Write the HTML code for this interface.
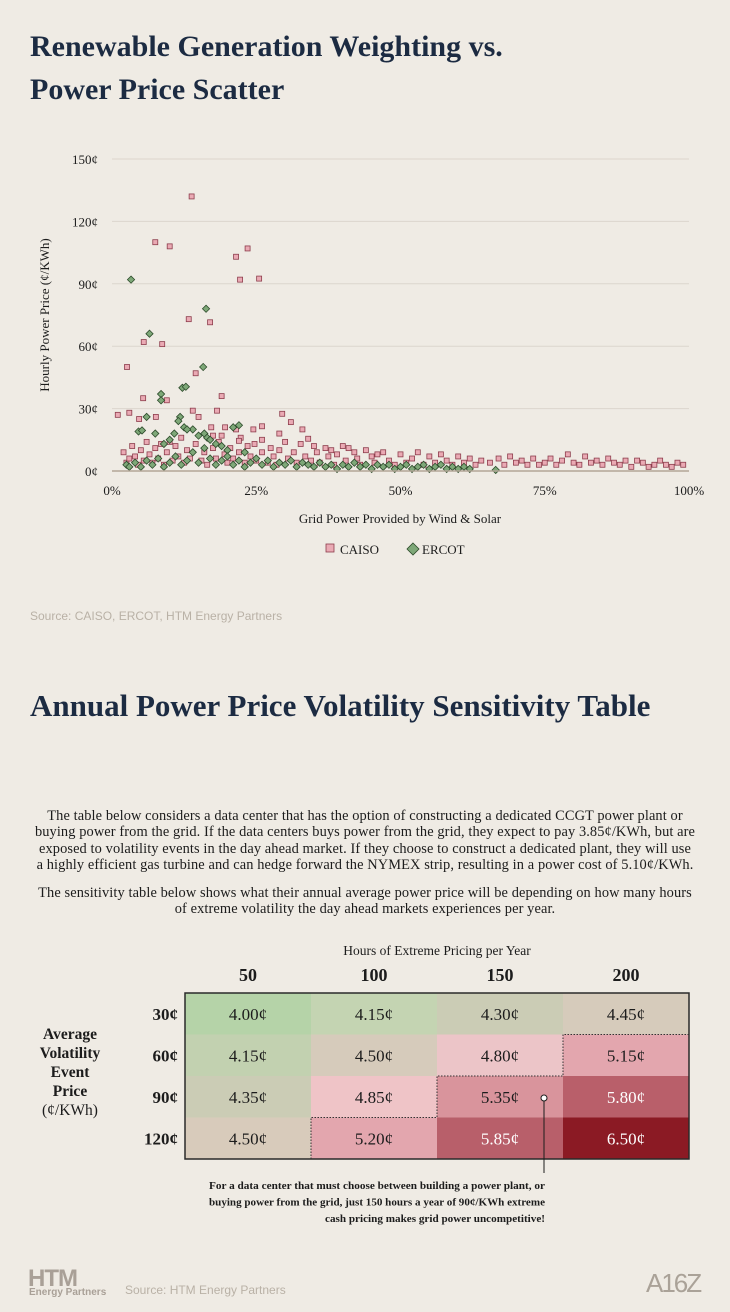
<!DOCTYPE html>
<html><head><meta charset="utf-8">
<style>
body{margin:0;background:#efebe4;}
#page{position:relative;width:730px;height:1312px;background:#efebe4;overflow:hidden;font-family:"Liberation Serif",serif;color:#1c2b42;}
.t{position:absolute;white-space:nowrap;}
.h1{font-size:30px;color:#1c2b42;font-weight:bold;}
.para{position:absolute;left:0;width:730px;text-align:center;font-size:14.4px;line-height:16.3px;color:#1c1c1c;white-space:nowrap;letter-spacing:0.1px;}
.src{font-family:"Liberation Sans",sans-serif;font-size:12px;color:#b9b1a6;}
</style></head><body>
<div id="page">
<div class="t h1" style="left:30px;top:30px;">Renewable Generation Weighting vs.</div>
<div class="t h1" style="left:30px;top:73px;">Power Price Scatter</div>

<svg id="chart" width="730" height="580" style="position:absolute;left:0;top:0"></svg>

<div class="t src" style="left:30px;top:609px;">Source: CAISO, ERCOT, HTM Energy Partners</div>

<div class="t h1" style="left:30px;top:688px;font-size:31px;">Annual Power Price Volatility Sensitivity Table</div>

<div class="para" style="top:808px;">The table below considers a data center that has the option of constructing a dedicated CCGT power plant or<br>buying power from the grid. If the data centers buys power from the grid, they expect to pay 3.85¢/KWh, but are<br>exposed to volatility events in the day ahead market. If they choose to construct a dedicated plant, they will use<br>a highly efficient gas turbine and can hedge forward the NYMEX strip, resulting in a power cost of 5.10¢/KWh.</div>
<div class="para" style="top:885px;">The sensitivity table below shows what their annual average power price will be depending on how many hours<br>of extreme volatility the day ahead markets experiences per year.</div>

<svg id="table" width="730" height="300" style="position:absolute;left:0;top:930px"></svg>

<div class="t" style="left:28px;top:1265px;font-family:'Liberation Sans',sans-serif;font-weight:bold;font-size:24px;color:#a9a097;letter-spacing:-1px;">HTM</div>
<div class="t" style="left:29px;top:1287px;font-family:'Liberation Sans',sans-serif;font-size:10px;font-weight:bold;color:#a9a097;">Energy Partners</div>
<div class="t src" style="left:125px;top:1283px;">Source: HTM Energy Partners</div>
<div class="t" style="left:646px;top:1268px;font-family:'Liberation Sans',sans-serif;font-size:26px;color:#aaa298;letter-spacing:-2px;">A16Z</div>
</div>
<script>
const NS="http://www.w3.org/2000/svg";
const yTicks=[0,30,60,90,120,150];
const yTickLabels=["0¢","30¢","60¢","90¢","120¢","150¢"];
const xTicks=[0,25,50,75,100];
const xTickLabels=["0%","25%","50%","75%","100%"];
const caiso=[[13.8,132],[7.5,110],[10,108],[23.5,107],[21.5,103],[22.2,92],[25.5,92.5],[13.3,73],[17,71.5],[5.5,62],[8.7,61],[2.6,50],[14.5,47],[19,36],[5.4,35],[9.5,34],[14,29],[18.2,29],[1,27],[4.7,25],[7.6,26],[3,28],[15,26],[17.2,21],[19.6,21],[29.5,27.5],[31,23.5],[26,21.5],[21.5,20],[24.5,20],[33,20],[26,15],[17.5,17],[19,17],[22.3,16],[22,14.5],[24.7,13],[29,18],[30,14],[32.7,13],[34,15.5],[35,12],[37,11],[38,10],[40,12],[41,11],[42,9],[44,10],[46,8],[2,9],[2.5,4],[3,6],[3.5,12],[4,7],[4.5,3],[5,10],[5.5,5],[6,14],[6.5,8],[7,4],[7.5,11],[8,6],[8.5,13],[9,3],[9.5,9],[10,14],[10.5,5],[11,12],[11.5,7],[12,16],[12.5,4],[13,10],[13.5,6],[14.5,13],[15.5,5],[16,9],[16.5,3],[17.5,11],[18,6],[18.5,14],[19.5,8],[20,4],[20.5,11],[21,6],[22,9],[23,4],[23.5,12],[24,7],[25,5],[26,9],[27,4],[27.5,11],[28,7],[28.5,3],[29,10],[30.5,6],[31.5,9],[32,4],[33.5,7],[34.5,5],[35.5,9],[36,4],[37.5,7],[38.5,3],[39,8],[40.5,5],[42.5,6],[43,3],[45,7],[45.5,4],[47,9],[48,5],[49,3],[50,8],[51,4],[52,6],[53,9],[54,3],[55,7],[56,4],[57,8],[58,5],[59,3],[60,7],[61,4],[62,6],[63,3],[64,5],[65.5,4],[67,6],[68,3],[69,7],[70,4],[71,5],[72,3],[73,6],[74,3],[75,4],[76,6],[77,3],[78,5],[79,8],[80,4],[81,3],[82,7],[83,4],[84,5],[85,3],[86,6],[87,4],[88,3],[89,5],[90,2],[91,5],[92,4],[93,2],[94,3],[95,5],[96,3],[97,2],[98,4],[99,3]];
const ercot=[[3.3,92],[16.3,78],[6.5,66],[15.8,50],[12.2,40],[12.8,40.5],[8.5,37],[8.5,34],[6,26],[11.8,26],[11.5,24],[4.6,19],[5.2,19.5],[7.5,18],[10.8,18],[14,20],[16,18],[16.5,16],[17,15],[18,13],[21,21],[22,22],[12.5,21],[13,20],[15,17],[9,13],[10,15],[19,12],[20,10],[23,9],[2.5,3],[3,2],[4,4],[5,2],[6,5],[7,3],[8,6],[9,2],[10,4],[11,7],[12,3],[13,5],[14,9],[15,4],[16,11],[17,6],[18,3],[19,5],[20,7],[21,3],[22,5],[23,2],[24,4],[25,6],[26,3],[27,5],[28,2],[29,4],[30,3],[31,5],[32,2],[33,4],[34,3],[35,2],[36,4],[37,2],[38,3],[39,1],[40,3],[41,2],[42,4],[43,2],[44,3],[45,1],[46,3],[47,2],[48,3],[49,1],[50,2],[51,3],[52,1],[53,2],[54,3],[55,1],[56,2],[57,3],[58,1],[59,2],[60,1],[61,2],[62,1],[66.5,0.5]];
const X0=112,X1=689,Y0=471,Y1=159;
const sx=v=>X0+(X1-X0)*v/100;
const sy=v=>Y0-(Y0-Y1)*v/150;
function mk(parent,tag,attrs,text){const e=document.createElementNS(NS,tag);for(const k in attrs)e.setAttribute(k,attrs[k]);if(text!==undefined)e.textContent=text;parent.appendChild(e);return e;}
const c=document.getElementById('chart');
yTicks.forEach((v,i)=>{
  if(v>0){const g=mk(c,'line',{x1:X0,x2:X1,y1:sy(v),y2:sy(v),stroke:'#dcd6cd','stroke-width':1});
  
  }
  const t=mk(c,'text',{x:98,y:sy(v)+5,'text-anchor':'end','font-size':13,fill:'#1c1c1c','font-family':'Liberation Serif, serif'},yTickLabels[i]);
  
  
});
xTicks.forEach((v,i)=>{
  const t=mk(c,'text',{x:sx(v),y:495,'text-anchor':'middle','font-size':13,fill:'#1c1c1c','font-family':'Liberation Serif, serif'},xTickLabels[i]);
  
  
});
caiso.forEach(p=>{
  const r=mk(c,'rect',{x:sx(p[0])-2.5,y:sy(p[1])-2.5,width:5,height:5,fill:'#eaaab4',stroke:'#8d3d4c','stroke-width':0.8});
  
  
});
ercot.forEach(p=>{
  const x=sx(p[0]),y=sy(p[1]);
  const d=mk(c,'polygon',{points:`${x},${y-3.6} ${x+3.6},${y} ${x},${y+3.6} ${x-3.6},${y}`,fill:'#7ea878',stroke:'#2d4b2b','stroke-width':0.8});
  
  
});
const base=mk(c,'line',{x1:X0,x2:X1,y1:Y0,y2:Y0,stroke:'#b3a697','stroke-width':1.5});


const xt=mk(c,'text',{x:400,y:523,'text-anchor':'middle','font-size':13,fill:'#1c1c1c','font-family':'Liberation Serif, serif'},'Grid Power Provided by Wind & Solar');


const yt=mk(c,'text',{x:0,y:0,transform:'translate(49,315) rotate(-90)','text-anchor':'middle','font-size':13,fill:'#1c1c1c','font-family':'Liberation Serif, serif'},'Hourly Power Price (¢/KWh)');


const l1=mk(c,'rect',{x:326,y:544,width:8,height:8,fill:'#eaaab4',stroke:'#8d3d4c','stroke-width':0.8});


const l1t=mk(c,'text',{x:340,y:554,'font-size':13,fill:'#1c1c1c','font-family':'Liberation Serif, serif'},'CAISO');


const l2=mk(c,'polygon',{points:'413,543 419,549 413,555 407,549',fill:'#7ea878',stroke:'#2d4b2b','stroke-width':0.8});


const l2t=mk(c,'text',{x:422,y:554,'font-size':13,fill:'#1c1c1c','font-family':'Liberation Serif, serif'},'ERCOT');



// table
const hours=["50","100","150","200"];
const prices=["30¢","60¢","90¢","120¢"];
const values=[["4.00¢","4.15¢","4.30¢","4.45¢"],["4.15¢","4.50¢","4.80¢","5.15¢"],["4.35¢","4.85¢","5.35¢","5.80¢"],["4.50¢","5.20¢","5.85¢","6.50¢"]];
const fills=[["#b5d3a8","#c4d4b2","#cbccb5","#d6cbbb"],["#c2d1b0","#d6cbbb","#ecc5c8","#e3a6ae"],["#cbccb5","#efc4c7","#d9949c","#b95f6a"],["#d8cbbb","#e3a6ae","#b85f6a","#8b1a24"]];
const whiteText=[[0,0,0,0],[0,0,0,0],[0,0,0,1],[0,0,1,1]];
const t=document.getElementById('table');
const TX=185,TY=63,CW=126,RH=41.5;
const ht=mk(t,'text',{x:437,y:25,'text-anchor':'middle','font-size':13.5,fill:'#1c1c1c','font-family':'Liberation Serif, serif'},'Hours of Extreme Pricing per Year');


hours.forEach((h,j)=>{
  const e=mk(t,'text',{x:TX+CW*j+CW/2,y:51,'text-anchor':'middle','font-size':18,'font-weight':'bold',fill:'#1c1c1c','font-family':'Liberation Serif, serif'},h);
  
  
});
prices.forEach((p,i)=>{
  const e=mk(t,'text',{x:178,y:TY+RH*i+RH/2+6,'text-anchor':'end','font-size':17,'font-weight':'bold',fill:'#1c1c1c','font-family':'Liberation Serif, serif'},p);
  
  
  values[i].forEach((v,j)=>{
    const r=mk(t,'rect',{x:TX+CW*j,y:TY+RH*i,width:CW,height:RH,fill:fills[i][j]});
    
    
    const tx=mk(t,'text',{x:TX+CW*j+CW/2,y:TY+RH*i+RH/2+6,'text-anchor':'middle','font-size':17,fill:whiteText[i][j]?'#ffffff':'#1c1c1c','font-family':'Liberation Serif, serif'},v);
    
    
  });
});
const bd=mk(t,'rect',{x:TX,y:TY,width:CW*4,height:RH*4,fill:'none',stroke:'#2a2a2a','stroke-width':1.5});


const stair=`M${TX+CW*4},${TY+RH} H${TX+CW*3} V${TY+RH*2} H${TX+CW*2} V${TY+RH*3} H${TX+CW} V${TY+RH*4}`;
const st=mk(t,'path',{d:stair,fill:'none',stroke:'#333','stroke-width':1,'stroke-dasharray':'1.5,1.5'});


const ll=['Average','Volatility','Event','Price','(¢/KWh)'];
ll.forEach((s,i)=>{
  const e=mk(t,'text',{x:70,y:109+i*19,'text-anchor':'middle','font-size':15.5,'font-weight':i<4?'bold':'normal',fill:'#1c1c1c','font-family':'Liberation Serif, serif'},s);
  
  
});
const cx=544,cy=168;
const al=mk(t,'line',{x1:cx,x2:cx,y1:cy+3,y2:243,stroke:'#1c1c1c','stroke-width':1});


const ac=mk(t,'circle',{cx:cx,cy:cy,r:3,fill:'#fff',stroke:'#1c1c1c','stroke-width':1});


['For a data center that must choose between building a power plant, or','buying power from the grid, just 150 hours a year of 90¢/KWh extreme','cash pricing makes grid power uncompetitive!'].forEach((s,i)=>{
  const e=mk(t,'text',{x:545,y:259+i*16.5,'text-anchor':'end','font-size':10.5,'font-weight':'bold',fill:'#1c1c1c','font-family':'Liberation Serif, serif',textLength:i<2?336:220,lengthAdjust:'spacingAndGlyphs'},s);
  
  
});
</script>
</body></html>
